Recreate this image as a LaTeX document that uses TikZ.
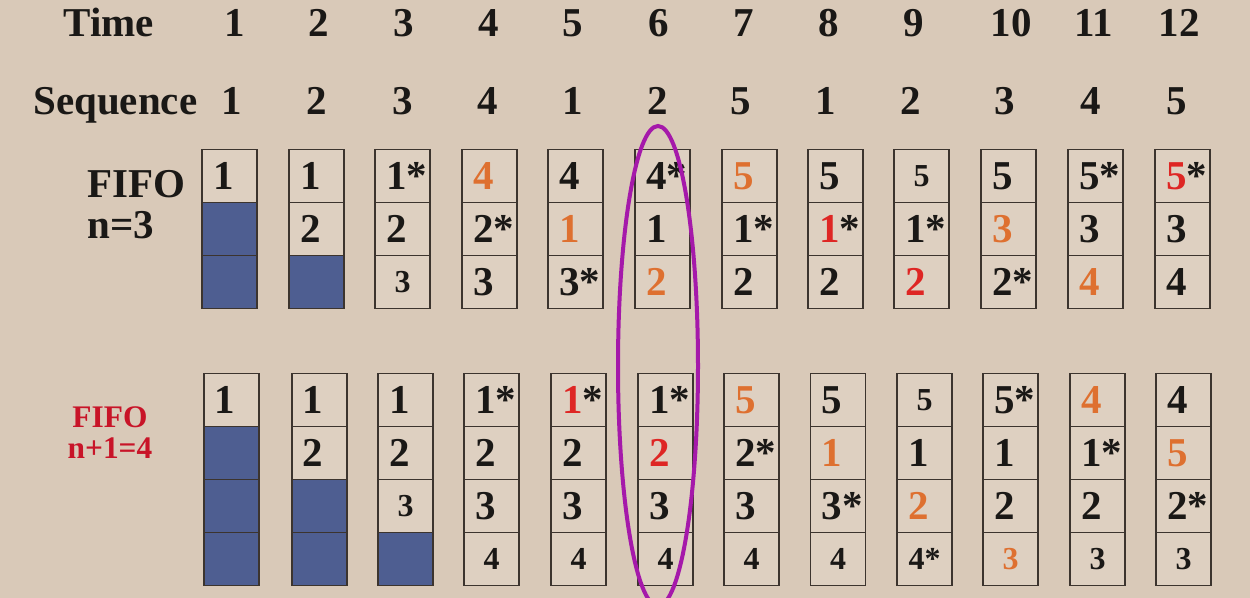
\documentclass[tikz,border=0pt]{standalone}
\usepackage{fontspec}
\setmainfont{Liberation Serif}
\definecolor{bgcol}{RGB}{217,201,184}
\definecolor{cellbg}{RGB}{222,208,193}
\definecolor{boxblue}{RGB}{78,94,145}
\definecolor{boxline}{RGB}{60,52,46}
\definecolor{ink}{RGB}{26,24,22}
\definecolor{numorange}{RGB}{222,112,48}
\definecolor{numred}{RGB}{222,38,36}
\definecolor{labelred}{RGB}{200,20,40}
\definecolor{ringpurple}{RGB}{165,25,170}
\newcommand\orng[1]{\textcolor{numorange}{#1}}
\newcommand\redd[1]{\textcolor{numred}{#1}}
\begin{document}
\begin{tikzpicture}[x=0.5pt,y=-0.5pt,
  cell/.style={draw=boxline, line width=0.8pt, fill=cellbg, inner xsep=0pt, inner ysep=0pt,
    minimum width=27.5pt, minimum height=26.5pt, text=ink,
    font=\bfseries\fontsize{20.5}{20.5}\selectfont, text height=13.9pt, text depth=0pt},
  scell/.style={cell, font=\bfseries\fontsize{16}{16}\selectfont, text height=10.9pt},
  bcell/.style={cell, fill=boxblue},
  hdr/.style={font=\bfseries\fontsize{20.5}{20.5}\selectfont, text=ink, inner sep=0pt, anchor=base},
  redlab/.style={font=\bfseries\fontsize{15.7}{15.7}\selectfont, text=labelred, inner sep=0pt, anchor=base}]
\newcommand\lft[1]{\hspace*{5.5pt}\makebox[22pt][l]{#1}}
\fill[bgcol] (0,0) rectangle (1250,598);
\useasboundingbox (0,0) rectangle (1250,598);
% headers
\node[hdr, anchor=base west] (time) at (63,37) {Time};
\node[hdr, anchor=base west] (seq) at (33,115) {Sequence};
\foreach \x/\t [count=\i] in {235/1, 319/2, 404/3, 489/4, 573/5, 659/6, 744/7, 829/8, 914/9, 1011/10, 1094/11, 1179/12}
  \node[hdr] (tm\i) at (\x,37) {\t};
\foreach \x/\t [count=\i] in {232/1, 317/2, 403/3, 488/4, 573/1, 658/2, 741/5, 826/1, 911/2, 1005/3, 1091/4, 1177/5}
  \node[hdr] (sq\i) at (\x,115) {\t};
% labels
\node[hdr, anchor=base west] (fifoA) at (87,198) {FIFO};
\node[hdr, anchor=base west] (nA) at (87,239) {n=3};
\node[redlab] (fifoB) at (110,428) {FIFO};
\node[redlab] (nB) at (110,459) {n+1=4};
% top frames (n=3)
\foreach \x/\sa/\ca/\sb/\cb/\sc/\cc [count=\i] in {
  229.5/cell/\lft{1}/bcell/{}/bcell/{},
  316.5/cell/\lft{1}/cell/\lft{2}/bcell/{},
  402.5/cell/\lft{1*}/cell/\lft{2}/scell/3,
  489.5/cell/\lft{\orng{4}}/cell/\lft{2*}/cell/\lft{3},
  575.5/cell/\lft{4}/cell/\lft{\orng{1}}/cell/\lft{3*},
  662.5/cell/\lft{4*}/cell/\lft{1}/cell/\lft{\orng{2}},
  749.5/cell/\lft{\orng{5}}/cell/\lft{1*}/cell/\lft{2},
  835.5/cell/\lft{5}/cell/\lft{\redd{1}*}/cell/\lft{2},
  921.5/scell/5/cell/\lft{1*}/cell/\lft{\redd{2}},
  1008.5/cell/\lft{5}/cell/\lft{\orng{3}}/cell/\lft{2*},
  1095.5/cell/\lft{5*}/cell/\lft{3}/cell/\lft{\orng{4}},
  1182.5/cell/\lft{\redd{5}*}/cell/\lft{3}/cell/\lft{4}}
{
  \node[\sa] (ta\i) at (\x,176) {\ca};
  \node[\sb] (tb\i) at (\x,229) {\cb};
  \node[\sc] (tc\i) at (\x,282) {\cc};
}
% bottom frames (n+1=4)
\foreach \x/\sa/\ca/\sb/\cb/\sc/\cc/\sd/\cd [count=\i] in {
  231.5/cell/\lft{1}/bcell/{}/bcell/{}/bcell/{},
  319.5/cell/\lft{1}/cell/\lft{2}/bcell/{}/bcell/{},
  405.5/cell/\lft{1}/cell/\lft{2}/scell/3/bcell/{},
  491.5/cell/\lft{1*}/cell/\lft{2}/cell/\lft{3}/scell/4,
  578.5/cell/\lft{\redd{1}*}/cell/\lft{2}/cell/\lft{3}/scell/4,
  665.5/cell/\lft{1*}/cell/\lft{\redd{2}}/cell/\lft{3}/scell/4,
  751.5/cell/\lft{\orng{5}}/cell/\lft{2*}/cell/\lft{3}/scell/4,
  838/cell/\lft{5}/cell/\lft{\orng{1}}/cell/\lft{3*}/scell/4,
  924.5/scell/5/cell/\lft{1}/cell/\lft{\orng{2}}/scell/4*,
  1010.5/cell/\lft{5*}/cell/\lft{1}/cell/\lft{2}/scell/\orng{3},
  1097.5/cell/\lft{\orng{4}}/cell/\lft{1*}/cell/\lft{2}/scell/3,
  1183.5/cell/\lft{4}/cell/\lft{\orng{5}}/cell/\lft{2*}/scell/3}
{
  \node[\sa] (ba\i) at (\x,400) {\ca};
  \node[\sb] (bb\i) at (\x,453) {\cb};
  \node[\sc] (bc\i) at (\x,506) {\cc};
  \node[\sd] (bd\i) at (\x,559) {\cd};
}
% highlight ring
\draw[ringpurple, line width=2pt] (658,366) ellipse [x radius=20pt, y radius=120pt];
\end{tikzpicture}
\end{document}
